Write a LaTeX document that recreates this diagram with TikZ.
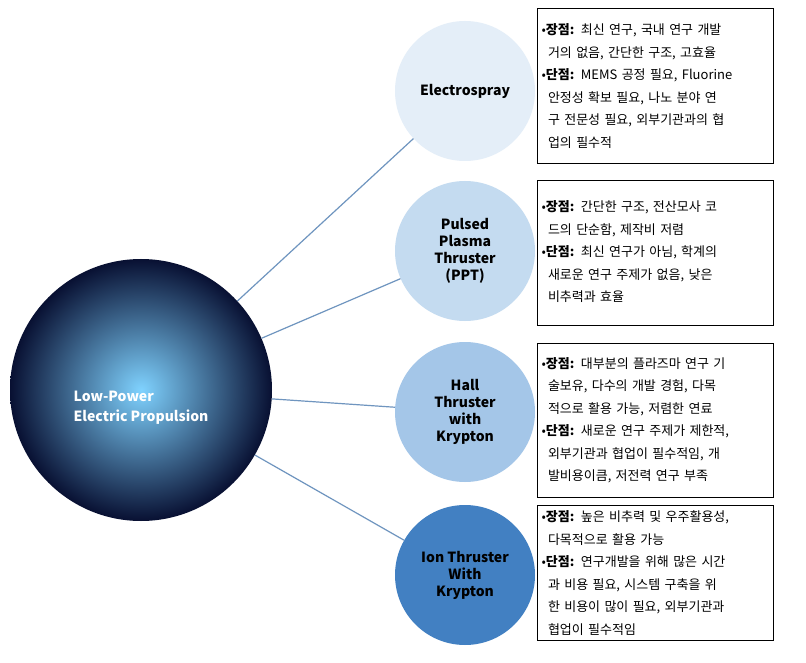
\documentclass[tikz,border=0pt]{standalone}
\usepackage{fontspec}
\setmainfont{Noto Sans CJK KR}
\usetikzlibrary{shadings}
\begin{document}
\begin{tikzpicture}[x=1pt,y=-1pt,
  sub/.style={circle,minimum size=140pt,inner sep=0pt,align=center,font=\bfseries\fontsize{14}{17}\selectfont},
  info/.style={draw,line width=1pt,anchor=north west,text width=228pt,inner sep=4pt,align=left,font=\fontsize{13}{22.5}\selectfont},
  link/.style={draw=linkc,line width=1.2pt}]
\definecolor{linkc}{HTML}{6F95BF}
\useasboundingbox (0,0) rectangle (806,663);
\fill[white] (0,0) rectangle (806,663);
\node[circle,minimum size=262pt,inner sep=0pt,inner color=blue!35!cyan!50!white, outer color={rgb,255:red,8;green,16;blue,50}] (big) at (141,390) {};
\node[font=\bfseries\fontsize{14}{20}\selectfont,text=white,align=left] (main) at (141,408) {Low-Power\\Electric Propulsion};
\node[sub,fill={rgb,255:red,228;green,238;blue,248}] (e) at (465,91) {Electrospray};
\node[sub,fill={rgb,255:red,196;green,219;blue,240}] (p) at (465,251) {Pulsed\\Plasma\\Thruster\\(PPT)};
\node[sub,fill={rgb,255:red,164;green,198;blue,232}] (h) at (465,412) {Hall\\Thruster\\with\\Krypton};
\node[sub,fill={rgb,255:red,66;green,128;blue,194}] (i) at (465,575) {Ion Thruster\\With\\Krypton};
\foreach \n in {e,p,h,i} \draw[link] (big) -- (\n);
\node[info,minimum height=155pt] (b1) at (537,8) {•\textbf{장점:} 최신 연구, 국내 연구 개발\\\ \,거의 없음, 간단한 구조, 고효율\\•\textbf{단점:} MEMS 공정 필요, Fluorine\\\ \,안정성 확보 필요, 나노 분야 연\\\ \,구 전문성 필요, 외부기관과의 협\\\ \,업의 필수적};
\node[info,minimum height=145pt] (b2) at (537,180) {\\[-14pt]•\textbf{장점:} 간단한 구조, 전산모사 코\\\ \,드의 단순함, 제작비 저렴\\•\textbf{단점:} 최신 연구가 아님, 학계의\\\ \,새로운 연구 주제가 없음, 낮은\\\ \,비추력과 효율};
\node[info,minimum height=154pt] (b3) at (537,343) {•\textbf{장점:} 대부분의 플라즈마 연구 기\\\ \,술보유, 다수의 개발 경험, 다목\\\ \,적으로 활용 가능, 저렴한 연료\\•\textbf{단점:} 새로운 연구 주제가 제한적,\\\ \,외부기관과 협업이 필수적임, 개\\\ \,발비용이큼, 저전력 연구 부족};
\node[info,minimum height=135pt] (b4) at (537,505) {•\textbf{장점:} 높은 비추력 및 우주활용성,\\\ \,다목적으로 활용 가능\\•\textbf{단점:} 연구개발을 위해 많은 시간\\\ \,과 비용 필요, 시스템 구축을 위\\\ \,한 비용이 많이 필요, 외부기관과\\\ \,협업이 필수적임};
\end{tikzpicture}
\end{document}
